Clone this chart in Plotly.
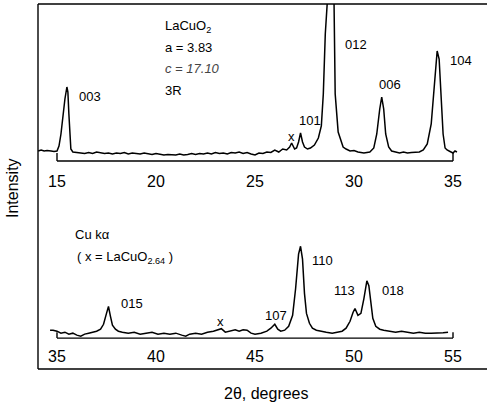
import plotly.graph_objects as go

# ---------------- data ----------------
# Upper pattern: 2-theta (deg) and intensity (arb. units, baseline ~0)
top_theta = [14.05, 14.2, 14.35, 14.5, 14.7, 14.85, 15.0, 15.1, 15.2, 15.3, 15.4, 15.5,
             15.55, 15.6, 15.65, 15.7, 15.8, 16.0, 16.2, 16.4, 16.6, 16.8, 17.0, 17.2,
             17.4, 17.6, 17.8, 18.0, 18.2, 18.4, 18.6, 18.8, 19.0, 19.2, 19.4, 19.6,
             19.8, 20.0, 20.2, 20.4, 20.6, 20.8, 21.0, 21.2, 21.4, 21.6, 21.8, 22.0,
             22.2, 22.4, 22.6, 22.8, 23.0, 23.2, 23.4, 23.6, 23.8, 24.0, 24.2, 24.4,
             24.6, 24.8, 25.0, 25.2, 25.4, 25.6, 25.8, 26.0, 26.2, 26.4, 26.6, 26.75,
             26.85, 27.0, 27.1, 27.2, 27.3, 27.4, 27.5, 27.65, 27.8, 28.0, 28.2, 28.35,
             28.45, 28.55, 28.65, 28.75, 28.9, 28.98, 29.05, 29.2, 29.45, 29.6, 29.8,
             30.0, 30.2, 30.5, 30.8, 31.0, 31.15, 31.3, 31.4, 31.5, 31.6, 31.75, 31.9,
             32.1, 32.3, 32.5, 32.7, 32.9, 33.1, 33.3, 33.5, 33.7, 33.9, 34.05, 34.2,
             34.3, 34.4, 34.5, 34.6, 34.7, 34.85, 35.0, 35.1, 35.2]
top_int = [3, 4, 3, 3.5, 3, 2.5, 3, 8, 20, 38, 55, 67,
           62, 40, 15, 5, 2, 1.5, 1, 0.5, 1.5, 0.5, 2, 1,
           0.5, 1, 0, 1, 0.5, 1.5, 0, 1, 0.5, 0, 1, 0.5,
           -0.5, 0.5, 0, -1, -0.5, -1, -1, 0, -1, -0.5, 0.5, -0.5,
           0.5, 0, 1, 0, 1.5, 0.5, 1, 0, 1.5, 1, 2, 0.5,
           1.5, 0, -1, 1, 0.5, 2, 1.5, 4, 2, 5, 4, 7,
           11, 5, 6, 12, 21, 12, 7, 5, 6, 9, 16, 28,
           60, 120, 190, 230, 230, 170, 60, 22, 7, 5, 3,
           3.5, 2, 1, 2, 6, 20, 45, 57, 45, 20, 7, 3,
           2, 1, 2, 1, 1.5, 2, 2, 4, 10, 30, 70, 103,
           95, 55, 20, 6, 4, 2.5, 1, 3, 2]

# Lower pattern
bot_theta = [34.65, 34.8, 35.0, 35.2, 35.4, 35.6, 35.8, 36.0, 36.2, 36.4, 36.6, 36.8,
             37.0, 37.2, 37.35, 37.5, 37.6, 37.7, 37.8, 37.95, 38.1, 38.3, 38.6, 38.9,
             39.2, 39.5, 39.8, 40.1, 40.4, 40.7, 41.0, 41.3, 41.5, 41.7, 42.0, 42.3,
             42.6, 42.9, 43.1, 43.3, 43.5, 43.7, 44.0, 44.2, 44.4, 44.6, 44.8, 45.0,
             45.3, 45.6, 45.8, 46.0, 46.15, 46.3, 46.5, 46.7, 46.9, 47.05, 47.2, 47.3,
             47.4, 47.5, 47.6, 47.75, 47.9, 48.1, 48.3, 48.6, 48.9, 49.2, 49.4, 49.6,
             49.8, 49.95, 50.05, 50.2, 50.35, 50.5, 50.65, 50.75, 50.85, 50.95, 51.1,
             51.3, 51.5, 51.8, 52.1, 52.4, 52.7, 53.0, 53.3, 53.6, 53.9, 54.2, 54.5, 54.75]
bot_int = [3, 3, 2, 0, 1, -1, 0, -2, -3, -1, 0, 1,
           2, 4, 9, 20, 27, 17, 8, 4, 2, 1, 0, 1,
           -1, 0, 1, -1, 0, -1, 0, -2, -3, -1, 0, -1,
           1, 2, 3, 4.5, 1, 2, 3.5, 2, 3.5, 3, 0, -1,
           0, 2, 5, 9, 4, 2, 3, 7, 18, 45, 80, 88,
           75, 40, 20, 10, 5, 3, 2, 1, 0, 1, 2, 5,
           12, 21, 25, 18, 20, 35, 53, 48, 30, 15, 7,
           4, 3, 2, 1, 2, 1, 0, 1, 0, 0, 0, 0.5, 1]

top_ticks = [15, 20, 25, 30, 35]
bot_ticks = [35, 40, 45, 50, 55]

top_peaks = [("003", 16.01, 57), ("x", 26.82, 18, "center"), ("101", 27.12, 33),
             ("012", 29.44, 109), ("006", 31.16, 69), ("104", 34.75, 93)]
bot_peaks = [("015", 38.13, 30), ("x", 43.28, 12, "center"), ("107", 45.40, 18),
             ("110", 47.78, 74), ("113", 48.89, 43), ("018", 51.31, 43)]

FONT = "Liberation Sans, Arial, Helvetica, sans-serif"
W, H = 487, 407

def px(v):
    return v / W

def py(v):
    return 1 - v / H

fig = go.Figure()
fig.add_trace(go.Scatter(x=top_theta, y=top_int, mode="lines",
                         line=dict(color="black", width=1.5), xaxis="x", yaxis="y",
                         showlegend=False, hoverinfo="skip"))
fig.add_trace(go.Scatter(x=bot_theta, y=bot_int, mode="lines",
                         line=dict(color="black", width=1.5), xaxis="x2", yaxis="y2",
                         showlegend=False, hoverinfo="skip"))

# axis scales: 19.8 px per degree, 15 deg at px 57 (top); 35 deg at px 57 (bottom)
x0_top = 15 - 57 / 19.8
x1_top = x0_top + W / 19.8
x0_bot = 35 - 57 / 19.8
x1_bot = x0_bot + W / 19.8

axcommon = dict(showgrid=False, zeroline=False, showline=False, ticks="",
                tickfont=dict(family=FONT, size=16, color="black"))
fig.update_layout(
    width=W, height=H, margin=dict(l=0, r=0, t=0, b=0),
    paper_bgcolor="white", plot_bgcolor="rgba(0,0,0,0)",
    xaxis=dict(domain=[0, 1], range=[x0_top, x1_top], anchor="y",
               tickvals=top_ticks, ticktext=[str(t) for t in top_ticks], **axcommon),
    yaxis=dict(domain=[py(170), py(4)], range=[-16, 150], visible=False),
    xaxis2=dict(domain=[0, 1], range=[x0_bot, x1_bot], anchor="y2",
                tickvals=bot_ticks, ticktext=[str(t) for t in bot_ticks], **axcommon),
    yaxis2=dict(domain=[py(345), py(190)], range=[-12, 145], visible=False),
)

line = dict(color="black", width=1.4)
# panel baselines (bracket-shaped axes)
fig.add_shape(type="line", xref="x", yref="y", x0=top_ticks[0], x1=top_ticks[-1], y0=-7, y1=-7, line=line)
fig.add_shape(type="line", xref="x", yref="y", x0=top_ticks[0], x1=top_ticks[0], y0=-7, y1=1, line=line)
fig.add_shape(type="line", xref="x", yref="y", x0=top_ticks[-1], x1=top_ticks[-1], y0=-7, y1=1, line=line)
fig.add_shape(type="line", xref="x2", yref="y2", x0=bot_ticks[0], x1=bot_ticks[-1], y0=-5, y1=-5, line=line)
fig.add_shape(type="line", xref="x2", yref="y2", x0=bot_ticks[0], x1=bot_ticks[0], y0=-5, y1=1, line=line)
fig.add_shape(type="line", xref="x2", yref="y2", x0=bot_ticks[-1], x1=bot_ticks[-1], y0=-5, y1=1, line=line)

# outer frame (left, top, bottom)
fig.add_shape(type="line", xref="paper", yref="paper", x0=px(38), x1=px(38), y0=py(4), y1=py(369), line=line)
fig.add_shape(type="line", xref="paper", yref="paper", x0=px(38), x1=1, y0=py(4), y1=py(4), line=line)
fig.add_shape(type="line", xref="paper", yref="paper", x0=px(38), x1=1, y0=py(369), y1=py(369), line=line)

def label(text, x, y, xref, yref, anchor="left", size=13, color="black"):
    fig.add_annotation(text=text, x=x, y=y, xref=xref, yref=yref, showarrow=False,
                       xanchor=anchor, yanchor="middle",
                       font=dict(family=FONT, size=size, color=color))

for p in top_peaks:
    label(p[0], p[1], p[2], "x", "y", p[3] if len(p) > 3 else "left")
for p in bot_peaks:
    label(p[0], p[1], p[2], "x2", "y2", p[3] if len(p) > 3 else "left")

label("LaCuO<sub>2</sub>", 20.35, 127, "x", "y")
label("a = 3.83", 20.35, 106, "x", "y")
label("<i>c = 17.10</i>", 20.35, 85, "x", "y", color="#444")
label("3R", 20.35, 63, "x", "y")
label("Cu k\u03b1", 35.81, 100, "x2", "y2")
label("( x = LaCuO<sub>2.64</sub> )", 35.91, 77, "x2", "y2")

fig.add_annotation(text="Intensity", x=px(12), y=py(188), xref="paper", yref="paper",
                   showarrow=False, textangle=-90, xanchor="center", yanchor="middle",
                   font=dict(family=FONT, size=16, color="black"))
fig.add_annotation(text="2\u03b8, degrees", x=px(266), y=py(393), xref="paper", yref="paper",
                   showarrow=False, xanchor="center", yanchor="middle",
                   font=dict(family=FONT, size=16, color="black"))

fig.write_html("out.html")
